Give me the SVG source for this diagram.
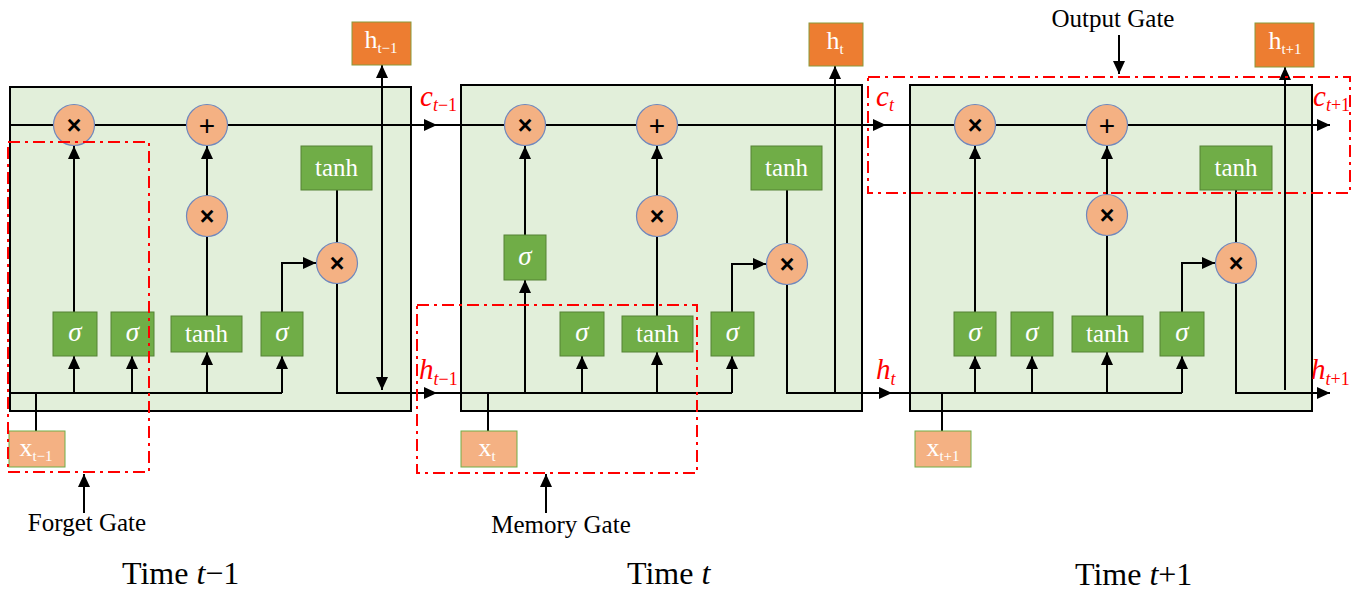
<svg xmlns="http://www.w3.org/2000/svg" width="1359" height="594" viewBox="0 0 1359 594">
<defs>
<style>
.cell{fill:#E2EFDA;stroke:#000;stroke-width:2}
.op{fill:#F4B183;stroke:#6F88BD;stroke-width:1.2}
.gb{fill:#70AD47;stroke:#548235;stroke-width:1}
.ob{fill:#ED7D31;stroke:#8A9A3A;stroke-width:1}
.xb{fill:#F4B183;stroke:#70AD47;stroke-width:1}
.ln{fill:none;stroke:#000;stroke-width:2}
.ar{fill:none;stroke:#000;stroke-width:2;marker-end:url(#ah)}
.dash{fill:none;stroke:#FF0000;stroke-width:2;stroke-dasharray:12 5 3 5}
.sym{font-family:"Liberation Sans",Arial,sans-serif;font-size:25px;font-weight:bold;fill:#000;text-anchor:middle}
.pl{font-family:"Liberation Sans",Arial,sans-serif;font-size:28px;fill:#000;text-anchor:middle}
.wt{font-family:"Liberation Serif","Times New Roman",serif;font-size:25px;fill:#fff;text-anchor:middle}
.lab{font-family:"Liberation Serif","Times New Roman",serif;font-size:26px;fill:#fff;text-anchor:middle}
.sg{font-family:"Liberation Serif","Times New Roman",serif;font-size:27px;font-style:italic;fill:#fff;text-anchor:middle}
.rl{font-family:"Liberation Serif","Times New Roman",serif;font-size:29px;font-style:italic;fill:#FF0000}
.gl{font-family:"Liberation Serif","Times New Roman",serif;font-size:25px;fill:#000;text-anchor:middle}
.tl{font-family:"Liberation Serif","Times New Roman",serif;font-size:32px;fill:#000}
</style>
<marker id="ah" markerUnits="userSpaceOnUse" markerWidth="14" markerHeight="12" refX="13" refY="6" orient="auto-start-reverse">
<path d="M0,0 L13,6 L0,12 z" fill="#000"/>
</marker>
</defs>
<rect width="1359" height="594" fill="#fff"/>

<g id="cell-t-1"><rect class="cell" x="10" y="87" width="401" height="324"/></g>
<g id="cell-t"><rect class="cell" x="461" y="85" width="401" height="326"/></g>
<g id="cell-t1"><rect class="cell" x="910" y="85" width="402" height="326"/></g>

<g id="connectors">
<path class="ar" d="M10,125 H437"/>
<path class="ar" d="M437,125 H886"/>
<path class="ar" d="M886,125 H1330"/>
<path class="ln" d="M10,393 H282"/>
<path class="ln" d="M36,393 V431"/>
<path class="ar" d="M74,393 V356"/>
<path class="ar" d="M132,393 V356"/>
<path class="ar" d="M207,393 V352"/>
<path class="ar" d="M282,393 V356"/>
<path class="ar" d="M74,312 V146"/>
<path class="ln" d="M207,316 V236"/>
<path class="ar" d="M207,196 V146"/>
<path class="ar" d="M282,312 V263 H316"/>
<path class="ln" d="M337,190 V243"/>
<path class="ar" d="M337,284 V393 H437"/>
<path class="ln" d="M437,393 H732"/>
<path class="ar" d="M382,390 V65" style="marker-start:url(#ah)"/>
<path class="ln" d="M488,393 V431"/>
<path class="ar" d="M525,393 V280"/>
<path class="ar" d="M582,393 V356"/>
<path class="ar" d="M657,393 V352"/>
<path class="ar" d="M732,393 V356"/>
<path class="ar" d="M525,235 V146"/>
<path class="ln" d="M657,316 V236"/>
<path class="ar" d="M657,196 V146"/>
<path class="ar" d="M732,312 V264 H766"/>
<path class="ln" d="M787,190 V243"/>
<path class="ar" d="M787,285 V393 H892"/>
<path class="ar" d="M835,393 V66"/>
<path class="ln" d="M892,393 H1182"/>
<path class="ln" d="M942,393 V431"/>
<path class="ar" d="M975,393 V356"/>
<path class="ar" d="M1032,393 V356"/>
<path class="ar" d="M1107,393 V352"/>
<path class="ar" d="M1182,393 V356"/>
<path class="ar" d="M975,312 V146"/>
<path class="ln" d="M1107,316 V236"/>
<path class="ar" d="M1107,195 V146"/>
<path class="ar" d="M1182,312 V263 H1215"/>
<path class="ln" d="M1236,190 V242"/>
<path class="ar" d="M1236,284 V393 H1330"/>
<path class="ar" d="M1285,390 V67"/>
<path class="ar" d="M84,513 V474"/>
<path class="ar" d="M546,513 V474"/>
<path class="ar" d="M1119,35 V74"/>
</g>

<g id="L-mul1"><circle class="op" cx="74" cy="125" r="20.5"/><text class="sym" x="74" y="134">×</text></g>
<g id="L-add"><circle class="op" cx="207" cy="125" r="20.5"/><text class="pl" x="207" y="135">+</text></g>
<g id="L-mul2"><circle class="op" cx="207" cy="216" r="20.5"/><text class="sym" x="207" y="225">×</text></g>
<g id="L-mul3"><circle class="op" cx="337" cy="263" r="20.5"/><text class="sym" x="337" y="272">×</text></g>
<g id="L-tanh-top"><rect class="gb" x="301" y="146" width="71" height="44"/><text class="wt" x="336.5" y="176">tanh</text></g>
<g id="L-sig1"><rect class="gb" x="53" y="312" width="44" height="44"/><text class="sg" x="75" y="341">σ</text></g>
<g id="L-sig2"><rect class="gb" x="111" y="312" width="43" height="44"/><text class="sg" x="132.5" y="341">σ</text></g>
<g id="L-tanh"><rect class="gb" x="171" y="316" width="71" height="36"/><text class="wt" x="206.5" y="342">tanh</text></g>
<g id="L-sig3"><rect class="gb" x="261" y="312" width="42" height="44"/><text class="sg" x="282" y="341">σ</text></g>
<g id="L-x"><rect class="xb" x="9" y="431" width="56" height="36"/><text class="lab" x="36" y="456">x<tspan dy="5" font-size="15">t−1</tspan></text></g>
<g id="L-h"><rect class="ob" x="352" y="22" width="59" height="43"/><text class="lab" x="381" y="48">h<tspan dy="5" font-size="15">t−1</tspan></text></g>

<g id="M-mul1"><circle class="op" cx="525" cy="125" r="20.5"/><text class="sym" x="525" y="134">×</text></g>
<g id="M-add"><circle class="op" cx="657" cy="125" r="20.5"/><text class="pl" x="657" y="135">+</text></g>
<g id="M-mul2"><circle class="op" cx="657" cy="216" r="20.5"/><text class="sym" x="657" y="225">×</text></g>
<g id="M-mul3"><circle class="op" cx="787" cy="264" r="20.5"/><text class="sym" x="787" y="273">×</text></g>
<g id="M-tanh-top"><rect class="gb" x="751" y="146" width="71" height="44"/><text class="wt" x="786.5" y="176">tanh</text></g>
<g id="M-sig-up"><rect class="gb" x="504" y="235" width="42" height="45"/><text class="sg" x="525" y="265">σ</text></g>
<g id="M-sig2"><rect class="gb" x="560" y="312" width="44" height="44"/><text class="sg" x="582" y="341">σ</text></g>
<g id="M-tanh"><rect class="gb" x="622" y="316" width="71" height="36"/><text class="wt" x="657.5" y="342">tanh</text></g>
<g id="M-sig3"><rect class="gb" x="711" y="312" width="43" height="44"/><text class="sg" x="732.5" y="341">σ</text></g>
<g id="M-x"><rect class="xb" x="461" y="431" width="56" height="36"/><text class="lab" x="487" y="456">x<tspan dy="5" font-size="15">t</tspan></text></g>
<g id="M-h"><rect class="ob" x="809" y="23" width="54" height="43"/><text class="lab" x="835" y="49">h<tspan dy="5" font-size="15">t</tspan></text></g>

<g id="R-mul1"><circle class="op" cx="975" cy="125" r="20.5"/><text class="sym" x="975" y="134">×</text></g>
<g id="R-add"><circle class="op" cx="1107" cy="125" r="20.5"/><text class="pl" x="1107" y="135">+</text></g>
<g id="R-mul2"><circle class="op" cx="1107" cy="215" r="20.5"/><text class="sym" x="1107" y="224">×</text></g>
<g id="R-mul3"><circle class="op" cx="1236" cy="263" r="20.5"/><text class="sym" x="1236" y="272">×</text></g>
<g id="R-tanh-top"><rect class="gb" x="1200" y="146" width="72" height="44"/><text class="wt" x="1236" y="176">tanh</text></g>
<g id="R-sig1"><rect class="gb" x="954" y="312" width="42" height="44"/><text class="sg" x="975" y="341">σ</text></g>
<g id="R-sig2"><rect class="gb" x="1011" y="312" width="42" height="44"/><text class="sg" x="1032" y="341">σ</text></g>
<g id="R-tanh"><rect class="gb" x="1072" y="316" width="71" height="36"/><text class="wt" x="1107.5" y="342">tanh</text></g>
<g id="R-sig3"><rect class="gb" x="1160" y="312" width="44" height="44"/><text class="sg" x="1182" y="341">σ</text></g>
<g id="R-x"><rect class="xb" x="915" y="431" width="56" height="36"/><text class="lab" x="943" y="456">x<tspan dy="5" font-size="15">t+1</tspan></text></g>
<g id="R-h"><rect class="ob" x="1255" y="23" width="59" height="44"/><text class="lab" x="1285" y="49">h<tspan dy="5" font-size="15">t+1</tspan></text></g>

<g id="forget-gate"><rect class="dash" x="8" y="142" width="141" height="330"/><text class="gl" x="87" y="531">Forget Gate</text></g>
<g id="memory-gate"><rect class="dash" x="417" y="305" width="280" height="168"/><text class="gl" x="561" y="533">Memory Gate</text></g>
<g id="output-gate"><rect class="dash" x="868" y="77" width="482" height="116"/><text class="gl" x="1113" y="27">Output Gate</text></g>

<g id="labels">
<text class="rl" x="420" y="106">c<tspan dy="5" font-size="18">t</tspan><tspan font-size="18" font-style="normal">−1</tspan></text>
<text class="rl" x="419" y="379">h<tspan dy="6" font-size="18">t</tspan><tspan font-size="18" font-style="normal">−1</tspan></text>
<text class="rl" x="876" y="106">c<tspan dy="5" font-size="18">t</tspan></text>
<text class="rl" x="876" y="379">h<tspan dy="6" font-size="18">t</tspan></text>
<text class="rl" x="1313" y="106">c<tspan dy="5" font-size="18">t</tspan><tspan font-size="18" font-style="normal">+1</tspan></text>
<text class="rl" x="1311" y="379">h<tspan dy="6" font-size="18">t</tspan><tspan font-size="18" font-style="normal">+1</tspan></text>
</g>

<g id="time-labels">
<text class="tl" x="122" y="584">Time <tspan font-style="italic">t</tspan>−1</text>
<text class="tl" x="627" y="584">Time <tspan font-style="italic">t</tspan></text>
<text class="tl" x="1075" y="585">Time <tspan font-style="italic">t</tspan>+1</text>
</g>
</svg>
